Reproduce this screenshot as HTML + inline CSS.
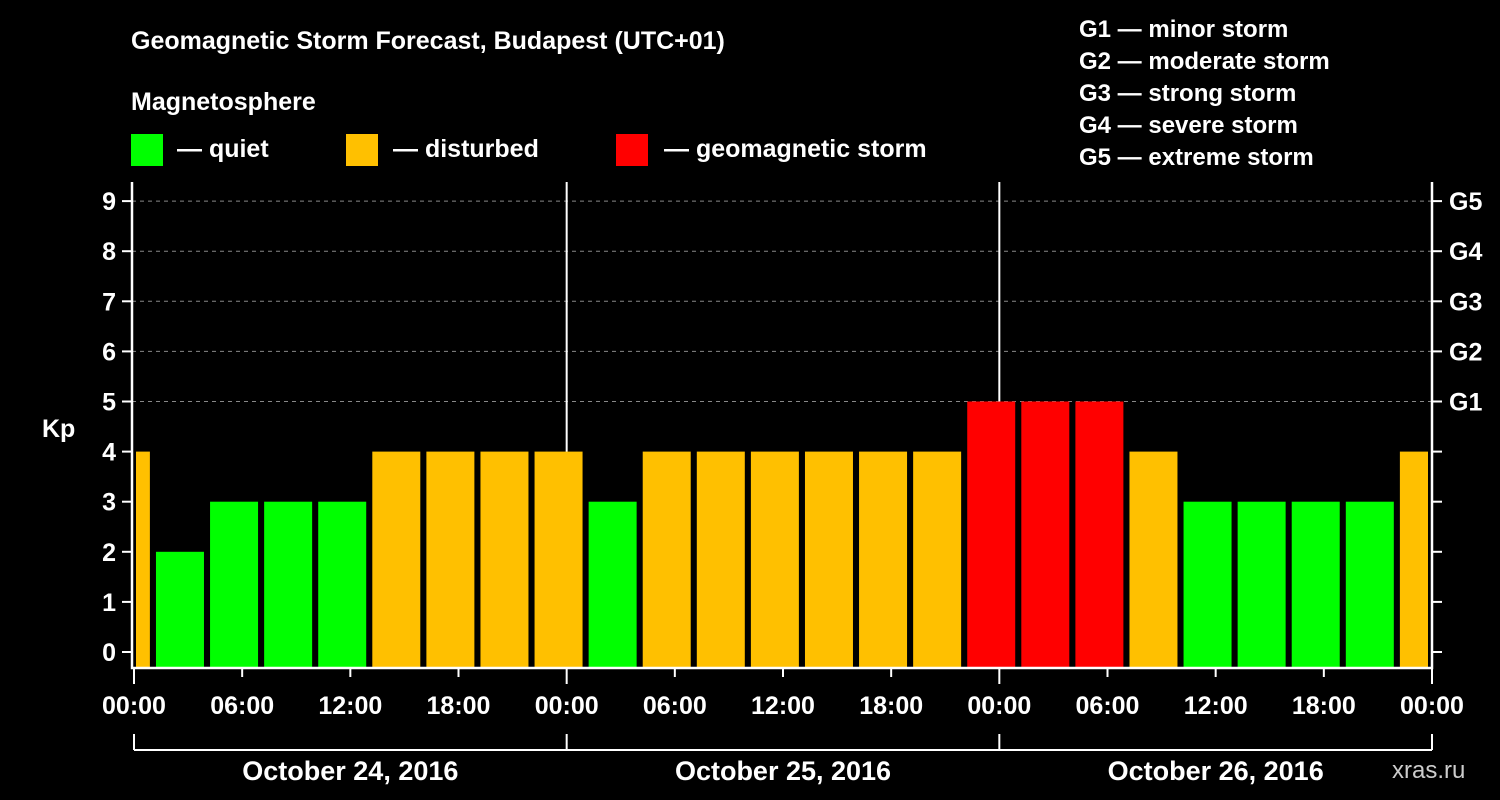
<!DOCTYPE html>
<html><head><meta charset="utf-8"><style>
html,body{margin:0;background:#000;}
svg{display:block;font-family:"Liberation Sans",Arial,sans-serif;font-weight:bold;}
</style></head><body>
<svg id="chart" width="1500" height="800" xmlns="http://www.w3.org/2000/svg">
<rect width="1500" height="800" fill="#000"/>
<text x="131" y="49" fill="#fff" font-size="25">Geomagnetic Storm Forecast, Budapest (UTC+01)</text>
<text x="131" y="110" fill="#fff" font-size="25">Magnetosphere</text>
<g><rect x="131" y="134" width="32" height="32" fill="#00ff00"/><text x="177" y="157" fill="#fff" font-size="25">— quiet</text></g>
<g><rect x="346" y="134" width="32" height="32" fill="#ffc000"/><text x="393" y="157" fill="#fff" font-size="25">— disturbed</text></g>
<g><rect x="616" y="134" width="32" height="32" fill="#ff0000"/><text x="664" y="157" fill="#fff" font-size="25">— geomagnetic storm</text></g>
<g fill="#fff" font-size="24">
<text x="1079" y="37">G1 — minor storm</text>
<text x="1079" y="69">G2 — moderate storm</text>
<text x="1079" y="101">G3 — strong storm</text>
<text x="1079" y="133">G4 — severe storm</text>
<text x="1079" y="165">G5 — extreme storm</text>
</g>
<g id="grid"></g>
<g id="bars"></g>
<g id="axes"></g>
<text x="42" y="437" fill="#fff" font-size="25">Kp</text>
<text x="1392" y="778" fill="#ccc" font-size="24" font-weight="normal">xras.ru</text>
</svg>
<script>
const kpValues=[4,2,3,3,3,4,4,4,4,3,4,4,4,4,4,4,5,5,5,4,3,3,3,3,4];
const yTicks=[0,1,2,3,4,5,6,7,8,9];
const gLabels=["G1","G2","G3","G4","G5"];
const xTickLabels=["00:00","06:00","12:00","18:00","00:00","06:00","12:00","18:00","00:00","06:00","12:00","18:00","00:00"];
const dayLabels=["October 24, 2016","October 25, 2016","October 26, 2016"];
const NS="http://www.w3.org/2000/svg";
const L=132,R=1432,T=182,B=668;
const y0=652,pxPerKp=50.1;
const hourPx=(R-L-2)/72;
function yS(v){return y0-v*pxPerKp;}
function xS(h){return L+2+h*hourPx;}
function mk(tag,attrs,parent){const e=document.createElementNS(NS,tag);for(const k in attrs)e.setAttribute(k,attrs[k]);parent.appendChild(e);return e;}
const grid=document.getElementById('grid'),bars=document.getElementById('bars'),axes=document.getElementById('axes');
yTicks.forEach(v=>{if(v>=5){const l=mk('line',{x1:L,x2:R,y1:yS(v),y2:yS(v),stroke:'#888','stroke-dasharray':'4,4','stroke-width':1},grid);

}});
kpValues.forEach((v,i)=>{
 const c=xS(i*3-0.45);
 let x1=c-24,x2=c+24;x1=Math.max(x1,L+4);x2=Math.min(x2,R-4);
 const col=v>=5?'#ff0000':(v>=4?'#ffc000':'#00ff00');
 const r=mk('rect',{x:x1,y:yS(v),width:x2-x1,height:B-yS(v),fill:col},bars);
 
 
});
for(let d=1;d<3;d++){const l=mk('line',{x1:xS(d*24),x2:xS(d*24),y1:T,y2:B,stroke:'#fff','stroke-width':2},grid);

}
const frame=mk('path',{d:`M${L} ${T}V${B}H${R}V${T}`,stroke:'#fff','stroke-width':2.5,fill:'none'},axes);


yTicks.forEach(v=>{
 mk('line',{x1:L-10,x2:L,y1:yS(v),y2:yS(v),stroke:'#fff','stroke-width':2},axes);
 mk('line',{x1:R,x2:R+10,y1:yS(v),y2:yS(v),stroke:'#fff','stroke-width':2},axes);
 const t=mk('text',{x:L-16,y:yS(v)+9,fill:'#fff','font-size':25,'text-anchor':'end'},axes);t.textContent=v;
 
 
});
gLabels.forEach((g,i)=>{const t=mk('text',{x:R+17,y:yS(5+i)+9,fill:'#fff','font-size':25},axes);t.textContent=g;
 
 });
xTickLabels.forEach((s,i)=>{const x=xS(i*6);const big=i%4===0;
 mk('line',{x1:x,x2:x,y1:B,y2:B+(big?16:9),stroke:'#fff','stroke-width':2},axes);
 const t=mk('text',{x:x,y:714,fill:'#fff','font-size':25,'text-anchor':'middle'},axes);t.textContent=s;
 
 });
const br=mk('line',{x1:xS(0),x2:xS(72),y1:750,y2:750,stroke:'#fff','stroke-width':2},axes);


for(let d=0;d<=3;d++)mk('line',{x1:xS(d*24),x2:xS(d*24),y1:734,y2:750,stroke:'#fff','stroke-width':2},axes);
dayLabels.forEach((s,i)=>{const t=mk('text',{x:xS(i*24+12),y:780,fill:'#fff','font-size':27,'text-anchor':'middle'},axes);t.textContent=s;
 
 });
</script>
</body></html>
